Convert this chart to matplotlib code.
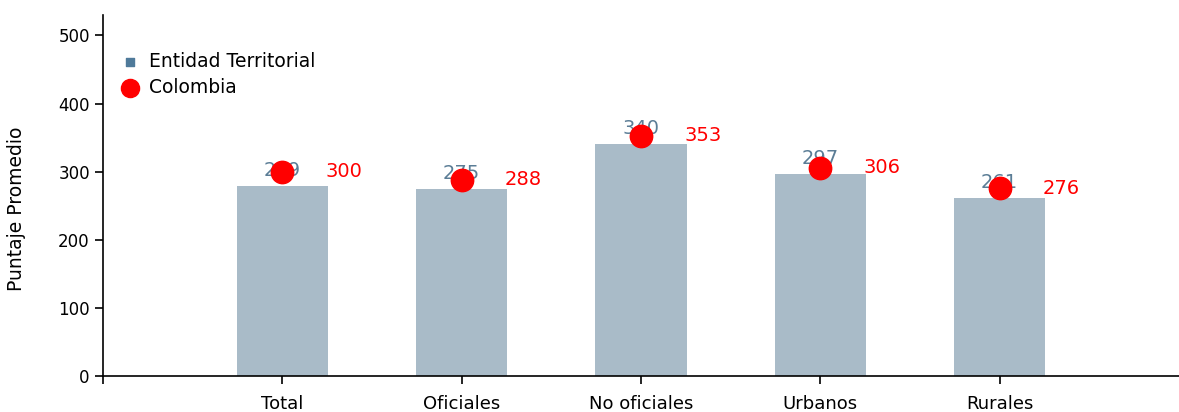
import matplotlib
matplotlib.use("Agg")
import matplotlib.pyplot as plt
import numpy as np

# ===================== datos =====================
categorias = ["Total", "Oficiales", "No oficiales", "Urbanos", "Rurales"]
entidad = [279, 275, 340, 297, 261]
colombia = [300, 288, 353, 306, 276]
y_ticks = [0, 100, 200, 300, 400, 500]

color_barra = "#a9bbc8"
color_texto = "#5b7d96"
color_leyenda = "#4f7a9a"
color_rojo = "#ff0000"

plt.rcParams['font.family'] = ['DejaVu Sans']
plt.rcParams['font.size'] = 12

fig = plt.figure(figsize=(11.79, 4.12), dpi=100)
ax = fig.add_axes([0.0874, 0.0874, 0.9126, 0.8762])

x = np.arange(1, len(categorias) + 1)

# barras
ax.bar(x, entidad, 0.51, color=color_barra, zorder=1)
for xi, v in zip(x, entidad):
    ax.text(xi, v + 9, str(v), color=color_texto, ha='center', va='bottom',
            fontsize=14, zorder=2)

# puntos Colombia
ax.scatter(x, colombia, s=260, color=color_rojo, zorder=3)
for xi, v in zip(x, colombia):
    ax.text(xi + 0.24, v, str(v), color=color_rojo, ha='left', va='center',
            fontsize=14, zorder=3)

# leyenda
h1 = ax.scatter([], [], marker='s', s=40, color=color_leyenda, label="Entidad Territorial")
h2 = ax.scatter([], [], marker='o', s=170, color=color_rojo, label="Colombia")
ax.legend(handles=[h1, h2], loc='upper left', bbox_to_anchor=(-0.005, 0.935),
          frameon=False, handletextpad=0.02, labelspacing=0.4, fontsize=13.5,
          borderaxespad=0.3)

# ejes
ax.set_xlim(0, 6)
ax.set_ylim(0, 530)
ax.set_xticks([0] + list(x))
ax.set_xticklabels([""] + categorias, fontsize=13)
ax.set_yticks(y_ticks)
ax.tick_params(axis='x', length=6, width=1.2, pad=8)
ax.tick_params(axis='y', length=6, width=1.2, labelsize=12)
ax.spines['top'].set_visible(False)
ax.spines['right'].set_visible(False)
ax.spines['left'].set_linewidth(1.2)
ax.spines['bottom'].set_linewidth(1.2)
ax.set_ylabel("Puntaje Promedio", fontsize=13.5)
ax.yaxis.set_label_coords(-0.0716, 0.463)

fig.savefig("out.png", dpi=100)
